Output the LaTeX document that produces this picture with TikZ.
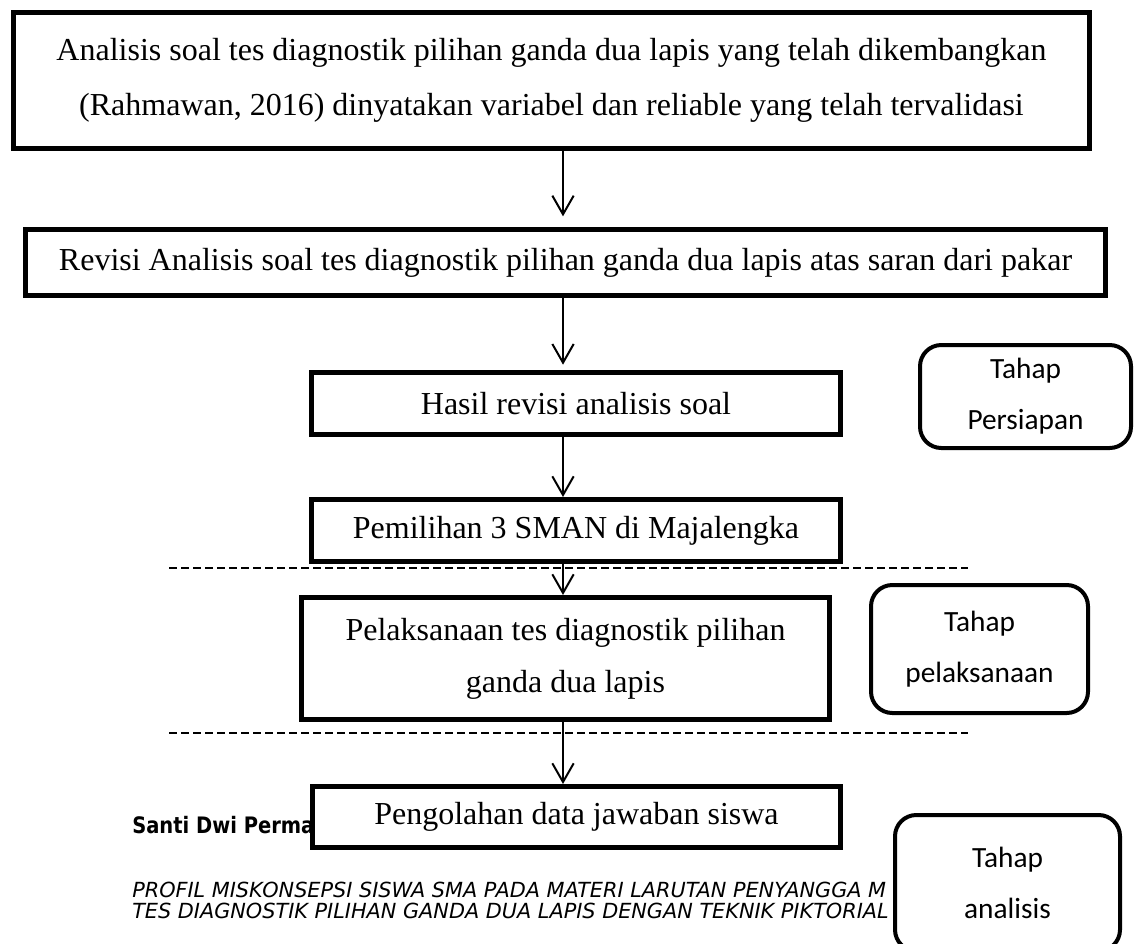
\documentclass[tikz,border=0pt]{standalone}
\usepackage{fontspec}
\setmainfont{Liberation Serif}
\newfontfamily\tahapfont{Carlito}
\newfontfamily\kakifont{DejaVu Sans}
\newfontfamily\kakitebal[FakeStretch=0.86]{DejaVu Sans Bold}
\usetikzlibrary{arrows.meta}

\begin{document}
\begin{tikzpicture}[x=0.75pt,y=-0.75pt,
    proses/.style ={rectangle, draw, line width=3.75pt, fill=white, inner sep=0pt, align=center, font=\fontsize{24}{41.5}\selectfont},
    tahap/.style ={rectangle, rounded corners=16pt, draw, line width=3pt, fill=white, inner sep=0pt, align=center, font=\tahapfont\fontsize{22}{38}\selectfont},
    alur/.style ={line width=1.5pt, -{Straight Barb[length=14pt,width=16pt,line width=1.5pt]}},
    batas/.style ={line width=1.1pt, dash pattern=on 6pt off 3pt},
    kaki/.style ={anchor=base west, inner sep=0pt, font=\kakifont\itshape\fontsize{15.6}{18}\selectfont}]
   \useasboundingbox (0,0) rectangle (1137,943);
   \clip (0,0) rectangle (1137,943);
   % teks kaki halaman
   \node[kaki, font=\kakitebal\fontsize{17}{20}\selectfont] (penulis) at (132,833) {Santi Dwi Perma};
   \node[kaki] (judulA) at (132,897) {PROFIL MISKONSEPSI SISWA SMA PADA MATERI LARUTAN PENYANGGA M};
   \node[kaki] (judulB) at (132,918) {TES DIAGNOSTIK PILIHAN GANDA DUA LAPIS DENGAN TEKNIK PIKTORIAL};
   % alur
   \coordinate (sumbu) at (563,0);
   \node[proses, minimum width=807pt, minimum height=102pt] (analisis) at (551.5,80.5)
      {Analisis soal tes diagnostik pilihan ganda dua lapis yang telah dikembangkan\\(Rahmawan, 2016) dinyatakan variabel dan reliable yang telah tervalidasi};
   \node[proses, minimum width=810pt, minimum height=49.5pt] (revisi) at (565.5,262.5)
      {Revisi Analisis soal tes diagnostik pilihan ganda dua lapis atas saran dari pakar};
   \node[proses, minimum width=396.75pt, minimum height=46.5pt] (hasil) at (576,403.5) {Hasil revisi analisis soal};
   \node[proses, minimum width=396.75pt, minimum height=46.5pt] (pemilihan) at (576,530.5) {Pemilihan 3 SMAN di Majalengka};
   \node[proses, minimum width=396pt, minimum height=91.5pt, font=\fontsize{24}{39}\selectfont] (pelaksanaan) at (565.5,658.5)
      {Pelaksanaan tes diagnostik pilihan\\ganda dua lapis};
   \node[proses, minimum width=396pt, minimum height=45.75pt] (pengolahan) at (576.5,817) {Pengolahan data jawaban siswa};
   \draw[alur, shorten >=8pt] (analisis.south -| sumbu) -- (revisi.north -| sumbu);
   \draw[alur, shorten >=4pt] (revisi.south -| sumbu) -- (hasil.north -| sumbu);
   \draw[alur] (hasil.south -| sumbu) -- (pemilihan.north -| sumbu);
   \draw[alur] (pemilihan.south -| sumbu) -- (pelaksanaan.north -| sumbu);
   \draw[alur] (pelaksanaan.south -| sumbu) -- (pengolahan.north -| sumbu);
   % batas tahap
   \draw[batas] (169,568) -- (968,568);
   \draw[batas] (169,733) -- (968,733);
   % keterangan tahap
   \node[tahap, minimum width=158.25pt, minimum height=77.25pt] (persiapan) at (1025.5,396.5) {Tahap\\Persiapan};
   \node[tahap, minimum width=162.75pt, minimum height=96pt] (tpelaksanaan) at (979.5,649) {Tahap\\pelaksanaan};
   \node[tahap, minimum width=168.75pt, minimum height=102pt] (tanalisis) at (1007.5,883) {Tahap\\analisis};
\end{tikzpicture}
\end{document}
